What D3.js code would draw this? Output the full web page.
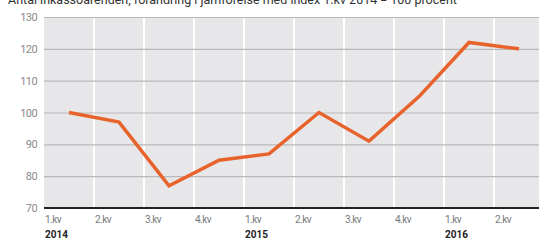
<!DOCTYPE html>
<html><head><meta charset="utf-8">
<script src="https://cdn.jsdelivr.net/npm/d3@7"></script>
<style>body{margin:0;background:#fff;overflow:hidden}svg{display:block}</style>
</head><body>
<svg id="c" width="539" height="240"></svg>
<script>
const quarters = ["1.kv","2.kv","3.kv","4.kv","1.kv","2.kv","3.kv","4.kv","1.kv","2.kv"];
const years = ["2014","","","","2015","","","","2016",""];
const values = [100, 97, 77, 85, 87, 100, 91, 105, 122, 120];
const yTicks = [70, 80, 90, 100, 110, 120, 130];
const title = "Antal inkassoärenden, förändring i jämförelse med index 1.kv 2014 = 100 procent";

(function () {
const svg = d3.select("#c");
const pL = 44, pR = 544, pT = 17, pB = 208;
const x = d3.scaleBand().domain(d3.range(quarters.length)).range([pL, pR]).padding(0);
const y = d3.scaleLinear().domain([70, 130]).range([pB, pT]);
const font = "Roboto, 'Open Sans', sans-serif";

svg.append("text").attr("x", 8).attr("y", 4).attr("font-family", font)
  .attr("font-size", 12.5).attr("fill", "#333").text(title);

svg.append("rect").attr("x", pL).attr("y", pT).attr("width", pR - pL).attr("height", pB - pT).attr("fill", "#e7e7e9");

svg.append("g").selectAll("line").data(d3.range(1, quarters.length)).join("line")
  .attr("x1", d => x(d)).attr("x2", d => x(d)).attr("y1", pT).attr("y2", pB)
  .attr("stroke", "#fff").attr("stroke-width", 2);

const yAxis = d3.axisLeft(y).tickValues(yTicks).tickSize(-(pR - pL)).tickPadding(8);
const gy = svg.append("g").attr("transform", `translate(${pL},0)`).call(yAxis);
gy.select(".domain").remove();
gy.selectAll(".tick line").attr("stroke", "#b9b9bb").attr("stroke-width", 1.2);
gy.selectAll(".tick text").attr("font-family", font).attr("font-size", 11)
  .attr("fill", "#8a8a8a").attr("letter-spacing", "-0.6").attr("x", -7);

svg.append("line").attr("x1", pL).attr("x2", pR).attr("y1", pB).attr("y2", pB)
  .attr("stroke", "#222").attr("stroke-width", 1.8);

const gx = svg.append("g");
gx.selectAll("text.q").data(quarters).join("text").attr("class", "q")
  .attr("x", (d, i) => x(i) + 1).attr("y", 223).attr("font-family", font).attr("font-size", 10)
  .attr("fill", "#777").attr("letter-spacing", "-0.5").text(d => d);
gx.selectAll("text.yr").data(years).join("text").attr("class", "yr")
  .attr("x", (d, i) => x(i) + 1).attr("y", 238).attr("font-family", font).attr("font-size", 10)
  .attr("font-weight", "bold").attr("fill", "#222").text(d => d);

const line = d3.line().x((d, i) => x(i) + x.bandwidth() / 2).y(d => y(d));
svg.append("path").datum(values).attr("d", line).attr("fill", "none")
  .attr("stroke", "#e8632b").attr("stroke-width", 3.5).attr("stroke-linejoin", "miter");
})();
</script>
</body></html>
